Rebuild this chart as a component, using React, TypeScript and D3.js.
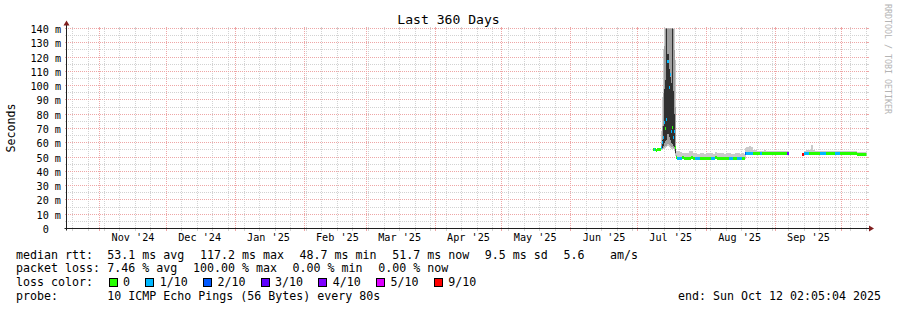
import React from "react";
import * as d3 from "d3";

// ---------------- data ----------------
const chartTitle = "Last 360 Days";
const yUnitLabel = "Seconds";
const watermark = "RRDTOOL / TOBI OETIKER";
const startLabel = "2024-10-17 02:05:04";
const endLabel = "2025-10-12 02:05:04";

const yTickValues = [0, 10, 20, 30, 40, 50, 60, 70, 80, 90, 100, 110, 120, 130, 140];
const yTickLabels = ["0", "10 m", "20 m", "30 m", "40 m", "50 m", "60 m", "70 m", "80 m", "90 m", "100 m", "110 m", "120 m", "130 m", "140 m"];
const xTickLabels = ["Nov '24", "Dec '24", "Jan '25", "Feb '25", "Mar '25", "Apr '25", "May '25", "Jun '25", "Jul '25", "Aug '25", "Sep '25"];

// sample start times (each sample lasts until the next one)
const sampleTimes = [
  "2025-07-08 00", "2025-07-08 12", "2025-07-09 00", "2025-07-09 12", "2025-07-10 00", "2025-07-10 12", "2025-07-11 00",
  "2025-07-11 12", "2025-07-12 00", "2025-07-12 12", "2025-07-13 00", "2025-07-13 12", "2025-07-14 00", "2025-07-14 12",
  "2025-07-15 00", "2025-07-15 12", "2025-07-16 00", "2025-07-16 12", "2025-07-17 00", "2025-07-17 12", "2025-07-18 00",
  "2025-07-18 12",
  "2025-07-19 00", "2025-07-20 00", "2025-07-21 00", "2025-07-22 00", "2025-07-23 00", "2025-07-24 00", "2025-07-25 00",
  "2025-07-26 00", "2025-07-27 00", "2025-07-28 00", "2025-07-29 00", "2025-07-30 00", "2025-07-31 00", "2025-08-01 00",
  "2025-08-02 00", "2025-08-03 00", "2025-08-04 00", "2025-08-05 00", "2025-08-06 00", "2025-08-07 00", "2025-08-08 00",
  "2025-08-09 00", "2025-08-10 00", "2025-08-11 00", "2025-08-12 00", "2025-08-13 00", "2025-08-14 00", "2025-08-15 00",
  "2025-08-16 00", "2025-08-17 00", "2025-08-18 00", "2025-08-18 12",
  "2025-08-19 00", "2025-08-20 00", "2025-08-21 00", "2025-08-22 00", "2025-08-23 00", "2025-08-24 00", "2025-08-25 00",
  "2025-08-26 00", "2025-08-27 00", "2025-08-28 00", "2025-08-29 00", "2025-08-30 00", "2025-08-31 00", "2025-09-01 00",
  "2025-09-02 00", "2025-09-03 00", "2025-09-04 00", "2025-09-05 00", "2025-09-06 00", "2025-09-06 12", "2025-09-07 00",
  "2025-09-13 06", "2025-09-13 18", "2025-09-14 00", "2025-09-15 00", "2025-09-16 00", "2025-09-17 00", "2025-09-18 00",
  "2025-09-19 00", "2025-09-20 00", "2025-09-21 00", "2025-09-22 00", "2025-09-23 00", "2025-09-24 00", "2025-09-25 00",
  "2025-09-26 00", "2025-09-27 00", "2025-09-28 00", "2025-09-29 00", "2025-09-30 00", "2025-10-01 00", "2025-10-02 00",
  "2025-10-03 00", "2025-10-04 00", "2025-10-05 00", "2025-10-06 00", "2025-10-07 00", "2025-10-08 00", "2025-10-09 06",
  "2025-10-10 00", "2025-10-11 00",
];

// median rtt (ms), null = no data
const medianMs = [
  55.2, 55.0, 55.1, 54.9, 55.2, 55.0, 55.4,
  56.5, 60.5, 63.5, 74.5, 70.0, 76.5, 117.2,
  99.0, 107.5, 67.8, 71.0, 64.0, 68.0, 57.0,
  49.6,
  49.3, 49.2, 49.4, 49.1, 49.0, 49.3, 49.6,
  49.2, 49.1, 49.0, 49.2, 49.0, 48.9, 49.1,
  49.0, 49.2, 48.9, 49.4, 49.0, 48.8, 48.9,
  49.0, 49.1, 49.0, 49.2, 48.9, 49.0, 49.1,
  48.7, 49.0, 49.1, 52.5,
  52.8, 52.6, 52.7, 52.5, 52.4, 52.6, 52.5,
  52.4, 52.6, 52.5, 52.3, 52.5, 52.6, 52.4,
  52.5, 52.3, 52.5, 52.4, 52.6, 52.5, null,
  52.0, 52.3, 52.5, 52.4, 52.6, 52.5, 52.7,
  52.4, 52.5, 52.6, 52.4, 52.5, 52.3, 52.5,
  52.4, 52.6, 52.3, 52.5, 52.4, 52.3, 52.4,
  52.2, 52.3, 52.4, 52.2, 52.3, 52.1, 51.6,
  51.7, 51.7,
];

// lost pings out of 10
const lossCount = [
  0, 1, 0, 0, 0, 0, 0,
  1, 1, 1, 1, 0, 1, 1,
  1, 1, 1, 0, 1, 1, 0,
  0,
  1, 1, 0, 0, 0, 0, 0,
  0, 1, 1, 0, 0, 0, 0,
  0, 1, 1, 0, 0, 0, 0,
  0, 0, 1, 1, 0, 0, 1,
  1, 0, 0, 2,
  1, 1, 1, 0, 0, 0, 1,
  0, 0, 0, 0, 0, 0, 0,
  0, 0, 0, 0, 0, 4, 10,
  9, 1, 1, 1, 0, 0, 0,
  0, 0, 1, 1, 1, 0, 0,
  0, 0, 1, 1, 0, 0, 0,
  0, 0, 0, 0, 0, 0, 0,
  0, 0,
];

// smoke: fastest and slowest ping (ms)
const smokeMinMs = [
  54.8, 54.6, 54.7, 54.5, 54.8, 54.6, 54.9,
  55.0, 55.2, 55.8, 56.0, 56.5, 57.0, 57.5,
  57.0, 56.5, 56.0, 56.0, 55.5, 54.5, 50.5,
  48.9,
  48.9, 48.8, 49.0, 48.8, 48.7, 48.9, 49.2,
  48.9, 48.8, 48.7, 48.9, 48.7, 48.6, 48.8,
  48.7, 48.9, 48.6, 48.5, 48.7, 48.5, 48.6,
  48.7, 48.8, 48.7, 48.9, 48.6, 48.7, 48.8,
  48.4, 48.7, 48.8, 49.0,
  52.3, 52.1, 52.2, 52.1, 52.0, 52.2, 52.1,
  52.0, 52.2, 52.1, 51.9, 52.1, 52.2, 52.0,
  52.1, 51.9, 52.1, 52.0, 52.2, 52.1, null,
  51.7, 51.9, 52.1, 52.0, 52.2, 52.1, 52.3,
  52.0, 52.1, 52.2, 52.0, 52.1, 51.9, 52.1,
  52.0, 52.2, 51.9, 52.1, 52.0, 51.9, 52.0,
  51.8, 51.9, 52.0, 51.8, 51.9, 51.7, 51.2,
  51.3, 51.3,
];
const smokeMaxMs = [
  55.9, 55.7, 55.8, 55.6, 56.0, 55.9, 56.6,
  68, 92, 126, 150, 150, 150, 150,
  150, 150, 150, 150, 150, 150, 118,
  54.5,
  54.5, 53.5, 52.8, 52.6, 53.0, 54.6, 54.2,
  52.9, 52.7, 52.5, 52.8, 52.6, 52.4, 52.9,
  52.6, 52.8, 52.5, 53.6, 53.0, 52.7, 52.6,
  52.4, 52.6, 52.8, 52.5, 52.3, 52.6, 52.7,
  52.4, 52.6, 52.5, 56.5,
  57.3, 57.5, 56.8, 55.2, 54.8, 54.6, 54.5,
  54.4, 54.7, 54.5, 54.3, 54.6, 54.5, 54.4,
  54.6, 54.2, 54.5, 54.3, 54.4, 54.5, null,
  52.5, 54.0, 54.6, 54.8, 55.2, 58.4, 55.0,
  54.6, 54.3, 54.5, 54.4, 54.6, 54.2, 54.4,
  54.3, 54.5, 54.2, 54.4, 54.3, 54.1, 54.2,
  54.0, 54.1, 54.2, 54.0, 54.1, 53.9, 53.4,
  53.5, 53.4,
];

// inner smoke bands during the July spike
const spikeTimes = [
  "2025-07-11 12", "2025-07-12 00", "2025-07-12 12", "2025-07-13 00", "2025-07-13 12", "2025-07-14 00", "2025-07-14 12",
  "2025-07-15 00", "2025-07-15 12", "2025-07-16 00", "2025-07-16 12", "2025-07-17 00", "2025-07-17 12", "2025-07-18 00",
  "2025-07-18 12",
];
const midLoMs = [55.4, 55.8, 56.5, 57.0, 57.5, 58.0, 59.0, 58.5, 58.0, 57.0, 57.0, 56.5, 55.5, 52.0, 49.0];
const midHiMs = [60, 72, 95, 128, 145, 150, 150, 150, 145, 150, 150, 140, 125, 85, 51.5];
const coreLoMs = [55.8, 56.5, 58.0, 60.0, 61.0, 62.0, 66.0, 64.0, 62.0, 60.0, 59.0, 58.0, 57.0, 53.0, 49.2];
const coreHiMs = [57, 62, 72, 98, 104, 150, 122, 112, 106, 102, 150, 96, 80, 58, 50.0];

// loss colour legend
const lossLabels = ["0", "1/10", "2/10", "3/10", "4/10", "5/10", "9/10"];
const lossUpper = [0, 1, 2, 3, 4, 5, 9];
const lossColors = ["#26ff00", "#00b8ff", "#0059ff", "#5e00ff", "#7e00ff", "#dd00ff", "#ff0000"];

// legend text
const rttTitle = "median rtt:";
const rttStats = ["53.1 ms avg", "117.2 ms max", "48.7 ms min", "51.7 ms now", "9.5 ms sd", "5.6"];
const rttAmsUnit = "am/s";
const lossTitle = "packet loss:";
const lossStats = ["7.46 % avg", "100.00 % max", "0.00 % min", "0.00 % now"];
const colorTitle = "loss color:";
const probeTitle = "probe:";
const probeText = "10 ICMP Echo Pings (56 Bytes) every 80s";
const endText = "end: Sun Oct 12 02:05:04 2025";

// ---------------- chart ----------------
const W = 897;
const H = 310;
const X0 = 66.5;
const X1 = 866.5;
const Y0 = 228.5;
const Y1 = 28.5;
const MONO = "'DejaVu Sans Mono', 'Liberation Mono', monospace";
const LEG_FS = 11.63;
const CH = LEG_FS * 0.6021;
const GAP = 15.6;

const parseFull = d3.timeParse("%Y-%m-%d %H:%M:%S");
const parse = d3.timeParse("%Y-%m-%d %H");

function colorFor(loss: number): string | null {
  if (loss >= 10) return null;
  for (let i = 0; i < lossUpper.length; i++) if (loss <= lossUpper[i]) return lossColors[i];
  return lossColors[lossColors.length - 1];
}

const px = (v: number) => Math.round(v - 0.5) + 0.5;

export default function App() {
  const start = parseFull(startLabel)!;
  const end = parseFull(endLabel)!;
  const x = d3.scaleTime().domain([start, end]).range([X0, X1]);
  const y = d3.scaleLinear().domain([0, 140]).range([Y0, Y1]);

  const T = sampleTimes.map((s) => parse(s)!);
  const tNext = (i: number) => (i + 1 < T.length ? T[i + 1] : end);

  const weeks = d3.timeWeek.range(start, end);
  const months = d3.timeMonth.range(start, end);
  const labelDates = months.map((m) => d3.timeDay.offset(m, 15)).filter((d) => d < end);

  const gridMinorY = d3.range(5, 141, 10);
  const majorGridColor = "#eea6a6";
  const minorGridColor = "#d2d2d2";

  const hLine = (yy: number, color: string, key: string) => (
    <g key={key} shapeRendering="crispEdges">
      <line x1={X0 - 2} x2={X0} y1={yy} y2={yy} stroke={color} strokeWidth={1} />
      <line x1={X1} x2={X1 + 2} y1={yy} y2={yy} stroke={color} strokeWidth={1} />
      <line x1={X0 + 1} x2={X1} y1={yy} y2={yy} stroke={color} strokeWidth={1} strokeDasharray="1 1" />
    </g>
  );
  const vLine = (xx: number, color: string, key: string) => (
    <g key={key} shapeRendering="crispEdges">
      <line x1={xx} x2={xx} y1={Y0} y2={Y0 + 2} stroke={color} strokeWidth={1} />
      <line x1={xx} x2={xx} y1={Y1 - 2} y2={Y1} stroke={color} strokeWidth={1} />
      <line x1={xx} x2={xx} y1={Y0 - 1} y2={Y1} stroke={color} strokeWidth={1} strokeDasharray="1 1" />
    </g>
  );

  // smoke outer band
  const outer = T.map((t, i) => {
    const lo = smokeMinMs[i];
    const hi = smokeMaxMs[i];
    if (lo == null || hi == null) return null;
    const xa = x(t);
    const xb = x(tNext(i));
    return <rect key={"o" + i} x={xa} width={xb - xa} y={y(hi)} height={y(lo) - y(hi)} fill="#cacaca" />;
  });

  const bandRects = (lo: number[], hi: number[], fill: string, pre: string) =>
    spikeTimes.map((s, j) => {
      const t = parse(s)!;
      const idx = sampleTimes.indexOf(s);
      const xa = x(t);
      const xb = x(tNext(idx));
      return <rect key={pre + j} x={xa} width={xb - xa} y={y(hi[j])} height={y(lo[j]) - y(hi[j])} fill={fill} />;
    });

  const medians = T.map((t, i) => {
    const m = medianMs[i];
    if (m == null) return null;
    const c = colorFor(lossCount[i]);
    if (!c) return null;
    const xa = x(t);
    const xb = x(tNext(i));
    return <rect key={"m" + i} x={xa} width={xb - xa} y={y(m + 1.05)} height={y(m - 1.05) - y(m + 1.05)} fill={c} />;
  });

  // legend placement
  let cx = 107.3;
  const rttItems = rttStats.map((s, i) => {
    const el = (
      <text key={"r" + i} x={cx} y={258.5} style={{ whiteSpace: "pre" }}>
        {s}
      </text>
    );
    cx += s.length * CH + GAP;
    return el;
  });
  cx = 107.3;
  const lossItems = lossStats.map((s, i) => {
    const el = (
      <text key={"l" + i} x={cx} y={272.2} style={{ whiteSpace: "pre" }}>
        {s}
      </text>
    );
    cx += s.length * CH + GAP;
    return el;
  });
  cx = 108.5;
  const colorItems = lossLabels.map((s, i) => {
    const bx = cx;
    cx += 14.5 + s.length * CH + 15.2;
    return (
      <g key={"c" + i}>
        <rect x={Math.round(bx) + 0.5} y={278.5} width={8} height={8} fill={lossColors[i]} stroke="#000" strokeWidth={1} />
        <text x={bx + 14.5} y={285.9}>
          {s}
        </text>
      </g>
    );
  });

  return (
    <svg width={W} height={H} style={{ position: "absolute", left: 0, top: 0, background: "#fff" }} fontFamily={MONO}>
      <defs>
        <clipPath id="plotClip">
          <rect x={X0} y={Y1} width={X1 - X0} height={Y0 - Y1} />
        </clipPath>
      </defs>
      <rect x={0} y={0} width={W} height={H} fill="#fff" />

      {/* grid */}
      {gridMinorY.map((v) => hLine(px(y(v)), minorGridColor, "hy" + v))}
      {weeks.map((d, i) => vLine(px(x(d)), minorGridColor, "vw" + i))}
      {yTickValues.filter((v) => v > 0).map((v) => hLine(px(y(v)), majorGridColor, "hY" + v))}
      {months.map((d, i) => vLine(px(x(d)), majorGridColor, "vM" + i))}

      {/* data */}
      <g clipPath="url(#plotClip)" shapeRendering="crispEdges">
        {outer}
        {bandRects(midLoMs, midHiMs, "#a0a0a0", "b")}
        {bandRects(coreLoMs, coreHiMs, "#303030", "c")}
        {medians}
      </g>

      {/* axes */}
      <line x1={X0 - 2} x2={X1 + 3} y1={Y0} y2={Y0} stroke="#1f1f1f" strokeWidth={1} />
      <line x1={X0} x2={X0} y1={Y0 + 2} y2={Y1 - 4} stroke="#1f1f1f" strokeWidth={1} />
      <path d={`M${X1 + 2.5},${Y0 - 3} L${X1 + 7.5},${Y0} L${X1 + 2.5},${Y0 + 3} Z`} fill="#801f1f" />
      <path d={`M${X0 - 3},${Y1 - 3} L${X0},${Y1 - 8} L${X0 + 3},${Y1 - 3} Z`} fill="#801f1f" />

      {/* y tick labels */}
      {yTickValues.map((v, i) => (
        <text key={"yl" + v} x={v === 0 ? 61 - 2 * 10.17 * 0.6021 : 61} y={px(y(v)) + 4.3} fontSize={10.17} textAnchor="end" fill="#000">
          {yTickLabels[i]}
        </text>
      ))}

      {/* x tick labels */}
      {labelDates.map((d, i) => (
        <text key={"xl" + i} x={x(d)} y={241} fontSize={10.17} textAnchor="middle" fill="#000">
          {xTickLabels[i]}
        </text>
      ))}

      {/* title, unit, watermark */}
      <text x={448.5} y={23.5} fontSize={13.08} textAnchor="middle" fill="#000">
        {chartTitle}
      </text>
      <text transform="translate(15,128) rotate(-90)" fontSize={11.63} textAnchor="middle" fill="#000">
        {yUnitLabel}
      </text>
      <text transform="translate(884.5,4) rotate(90)" fontSize={8.3} fill="#b4b4b4">
        {watermark}
      </text>

      {/* legend */}
      <g fontSize={LEG_FS} fill="#000">
        <text x={16} y={258.5}>{rttTitle}</text>
        {rttItems}
        <text x={610} y={258.5}>{rttAmsUnit}</text>
        <text x={16} y={272.2}>{lossTitle}</text>
        {lossItems}
        <text x={16} y={285.9}>{colorTitle}</text>
        {colorItems}
        <text x={16} y={299.6}>{probeTitle}</text>
        <text x={107.3} y={299.6}>{probeText}</text>
        <text x={881} y={299.6} textAnchor="end">{endText}</text>
      </g>
    </svg>
  );
}
